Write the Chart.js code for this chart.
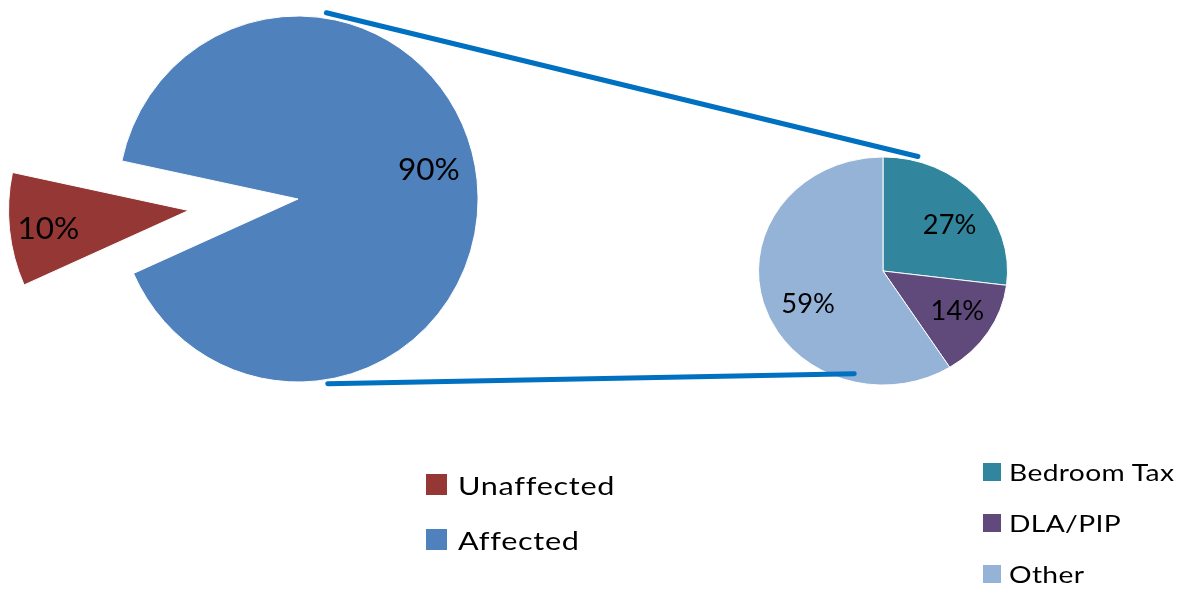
<!DOCTYPE html>
<html><head><meta charset="utf-8">
<script src="https://cdn.jsdelivr.net/npm/chart.js@4"></script>
<style>
html,body{margin:0;padding:0;background:#fff;width:1182px;height:589px;overflow:hidden;font-family:Lato,sans-serif;}
canvas{position:absolute;left:0;top:0;}
.legend{position:absolute;margin:0;padding:0;list-style:none;}
.legend li{display:flex;align-items:center;color:#000;white-space:nowrap;}
.legend .sw{display:inline-block;flex:none;}
.legend .tx{display:inline-block;transform-origin:0 50%;}
</style></head><body>
<canvas id="main" width="1182" height="589"></canvas>
<canvas id="detail" width="1182" height="589"></canvas>
<ul id="legMain" class="legend" style="left:426px;top:457px;"></ul>
<ul id="legDetail" class="legend" style="left:983px;top:446px;"></ul>
<script>
// ---- data ----
const mainLabels = ['Unaffected', 'Affected'];
const mainValues = [10, 90];
const mainColors = ['#953735', '#4F81BD'];

const detailLabels = ['Bedroom Tax', 'DLA/PIP', 'Other'];
const detailValues = [27, 14, 59];
const detailColors = ['#31859C', '#604A7B', '#95B3D7'];

// ---- plugins ----
// draws the library's arc elements, optionally exploding one slice and stretching the pie
function makePieDrawPlugin(cfg) {
  return {
    id: 'pieDraw',
    beforeDatasetDraw(chart, args) {
      const ctx = chart.ctx;
      args.meta.data.forEach((arc, i) => {
        ctx.save();
        let tx = arc.x, ty = arc.y;
        if (i === cfg.explodeIndex) {
          const mid = (arc.startAngle + arc.endAngle) / 2;
          tx += Math.cos(mid) * cfg.explodeDistance;
          ty += Math.sin(mid) * cfg.explodeDistance;
        }
        ctx.translate(tx, ty);
        ctx.scale(cfg.sx, cfg.sy);
        ctx.translate(-arc.x, -arc.y);
        arc.draw(ctx);
        ctx.restore();
      });
      return false;
    }
  };
}

function makeLabelPlugin(cfg) {
  return {
    id: 'sliceLabels',
    afterDatasetsDraw(chart) {
      const ctx = chart.ctx;
      const meta = chart.getDatasetMeta(0);
      const values = chart.data.datasets[0].data;
      const total = values.reduce((a, b) => a + b, 0);
      ctx.save();
      ctx.font = cfg.size + 'px Lato';
      ctx.fillStyle = '#000';
      ctx.textAlign = 'center';
      ctx.textBaseline = 'alphabetic';
      meta.data.forEach((arc, i) => {
        const mid = (arc.startAngle + arc.endAngle) / 2;
        const shift = (cfg.explodeIndex === i) ? cfg.explodeDistance : 0;
        const d = shift + arc.outerRadius * cfg.frac[i];
        const n = cfg.nudge[i];
        const x = arc.x + Math.cos(mid) * d + n[0];
        const y = arc.y + Math.sin(mid) * d + n[1];
        ctx.save();
        ctx.translate(x, y + cfg.size * 0.36);
        ctx.scale(1.05, 1);
        ctx.fillText(Math.round(values[i] / total * 100) + '%', 0, 0);
        ctx.restore();
      });
      ctx.restore();
    }
  };
}

const mainShape = { explodeIndex: 0, explodeDistance: 110, sx: 0.984, sy: 1 };
const detailShape = { explodeIndex: -1, explodeDistance: 0, sx: 1, sy: 0.916 };

let mainChart;
const connectorPlugin = {
  id: 'connectors',
  afterDraw(chart) {
    const big = mainChart.getDatasetMeta(0).data[0];
    const small = chart.getDatasetMeta(0).data[0];
    const pt = (arc, shape, deg, dr) => [
      arc.x + Math.cos(deg * Math.PI / 180) * (arc.outerRadius + dr) * shape.sx,
      arc.y + Math.sin(deg * Math.PI / 180) * (arc.outerRadius + dr) * shape.sy
    ];
    const lines = [
      [pt(big, mainShape, -81.2, 5.5), pt(small, detailShape, -74.4, 5.3)],
      [pt(big, mainShape, 80.7, 4.2), pt(small, detailShape, 104.4, -8.8)]
    ];
    const ctx = chart.ctx;
    ctx.save();
    ctx.strokeStyle = '#0070C0';
    ctx.lineWidth = 5;
    ctx.lineCap = 'round';
    lines.forEach(([a, b]) => {
      ctx.beginPath();
      ctx.moveTo(a[0], a[1]);
      ctx.lineTo(b[0], b[1]);
      ctx.stroke();
    });
    ctx.restore();
  }
};

// ---- charts ----
mainChart = new Chart(document.getElementById('main'), {
  type: 'pie',
  data: {
    labels: mainLabels,
    datasets: [{ data: mainValues, backgroundColor: mainColors, borderColor: '#ffffff', borderWidth: 1, radius: 183 }]
  },
  options: {
    responsive: false,
    animation: false,
    rotation: 246,
    layout: { padding: { left: 0, top: 0, right: 586, bottom: 191 } },
    plugins: { legend: { display: false }, tooltip: { enabled: false } }
  },
  plugins: [
    makePieDrawPlugin(mainShape),
    makeLabelPlugin({ size: 30, frac: [0.77, 0.73], nudge: [[0, 3], [-2, -16]], explodeIndex: 0, explodeDistance: 110 })
  ]
});

const detailChart = new Chart(document.getElementById('detail'), {
  type: 'pie',
  data: {
    labels: detailLabels,
    datasets: [{ data: detailValues, backgroundColor: detailColors, borderColor: '#ffffff', borderWidth: 1, radius: 124.5 }]
  },
  options: {
    responsive: false,
    animation: false,
    rotation: 0,
    layout: { padding: { left: 733, top: 121, right: 149, bottom: 168 } },
    plugins: { legend: { display: false }, tooltip: { enabled: false } }
  },
  plugins: [
    makePieDrawPlugin(detailShape),
    makeLabelPlugin({ size: 26, frac: [0.66, 0.66, 0.66], nudge: [[5, 8], [5, -4], [4, 10]], explodeIndex: -1, explodeDistance: 0 }),
    connectorPlugin
  ]
});

// ---- legends (built from chart data) ----
function buildLegend(el, chart, cfg) {
  const labels = chart.data.labels;
  const colors = chart.data.datasets[0].backgroundColor;
  labels.forEach((t, i) => {
    const li = document.createElement('li');
    li.style.height = cfg.row + 'px';
    li.style.fontSize = cfg.font + 'px';
    const sw = document.createElement('span');
    sw.className = 'sw';
    sw.style.width = cfg.box + 'px';
    sw.style.height = cfg.box + 'px';
    sw.style.marginRight = cfg.gap + 'px';
    sw.style.background = colors[i];
    const tx = document.createElement('span');
    tx.className = 'tx';
    tx.style.letterSpacing = cfg.ls + 'px';
    tx.style.transform = 'scaleX(' + cfg.stretch + ')';
    tx.textContent = t;
    li.appendChild(sw);
    li.appendChild(tx);
    el.appendChild(li);
  });
}
buildLegend(document.getElementById('legMain'), mainChart, { row: 55, font: 25.5, ls: 0.6, stretch: 1.2, box: 21, gap: 11 });
buildLegend(document.getElementById('legDetail'), detailChart, { row: 51, font: 23.5, ls: 0.3, stretch: 1.2, box: 18, gap: 8 });
</script>
</body></html>
